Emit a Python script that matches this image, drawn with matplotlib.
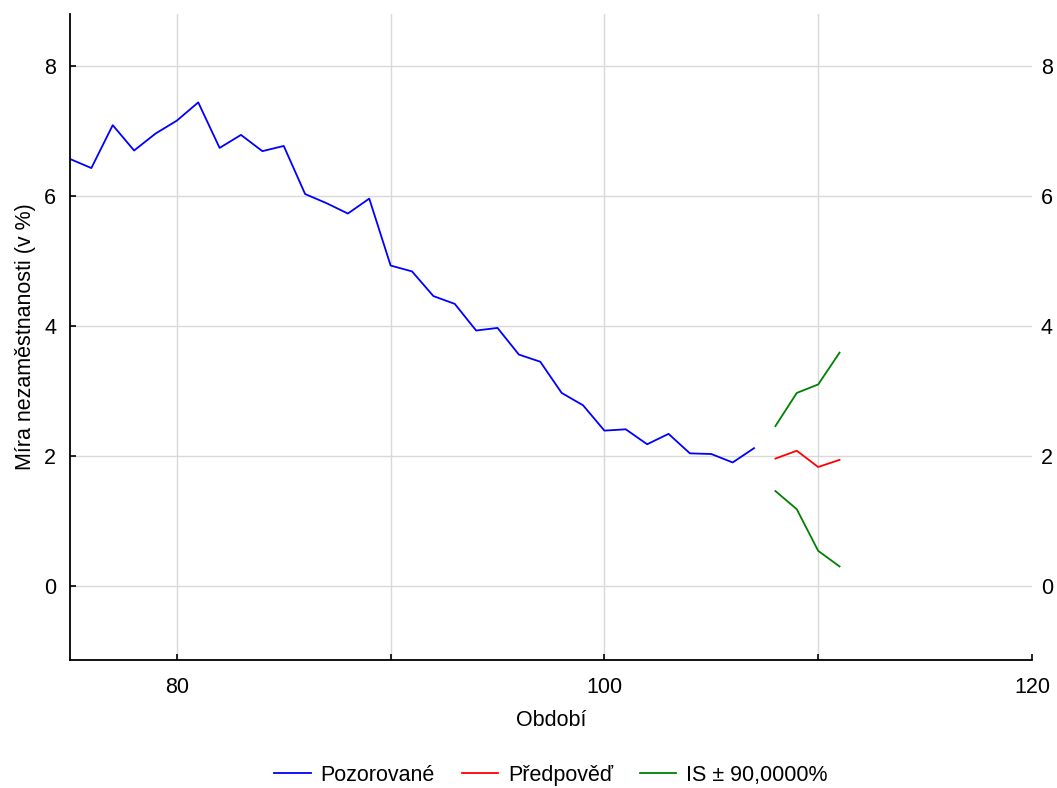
import matplotlib
matplotlib.use('Agg')
import matplotlib.pyplot as plt

plt.rcParams['font.family'] = ['Liberation Sans', 'DejaVu Sans']

# ── Data ──────────────────────────────────────────────────────────────────
obs_x = list(range(75, 108))
obs_y = [6.57, 6.43, 7.09, 6.70, 6.96, 7.16, 7.44, 6.74, 6.94, 6.69,
         6.77, 6.03, 5.89, 5.73, 5.96, 4.93, 4.84, 4.46, 4.34, 3.93,
         3.97, 3.56, 3.45, 2.97, 2.78, 2.39, 2.41, 2.18, 2.34, 2.04,
         2.03, 1.90, 2.12]

fc_x = [108, 109, 110, 111]
fc_y = [1.96, 2.08, 1.83, 1.94]
ci_hi = [2.46, 2.97, 3.10, 3.59]
ci_lo = [1.46, 1.18, 0.54, 0.30]

x_ticks = [80, 90, 100, 110, 120]
x_labels = ['80', '', '100', '', '120']
y_ticks = [0, 2, 4, 6, 8]

FS = 15.5

# ── Figure ────────────────────────────────────────────────────────────────
fig = plt.figure(figsize=(10.57, 7.88), dpi=100, facecolor='white')
ax = fig.add_axes([0.0662, 0.1624, 0.9101, 0.8198])

ax.plot(obs_x, obs_y, color='#0000ff', lw=1.3, label='Pozorované')
ax.plot(fc_x, fc_y, color='#ff0000', lw=1.3, label='Předpověď')
ax.plot(fc_x, ci_hi, color='#008000', lw=1.3, label='IS ± 90,0000%')
ax.plot(fc_x, ci_lo, color='#008000', lw=1.3)

ax.set_xlim(75, 120)
ax.set_ylim(-1.14, 8.8)
ax.set_xticks(x_ticks)
ax.set_xticklabels(x_labels)
ax.set_yticks(y_ticks)

ax.grid(True, color='#d9d9d9', lw=1.0)
ax.set_axisbelow(True)
ax.get_xgridlines()[-1].set_visible(False)

for side in ('top', 'right'):
    ax.spines[side].set_visible(False)
ax.spines['left'].set_linewidth(1.3)
ax.spines['bottom'].set_linewidth(1.3)

ax.tick_params(axis='both', direction='in', length=4, width=1.2,
               labelsize=FS)
ax.tick_params(axis='y', pad=10)
ax.tick_params(axis='x', pad=12)

# right-hand tick labels, no spine, no tick marks
sec = ax.secondary_yaxis('right')
sec.set_yticks(y_ticks)
sec.spines['right'].set_visible(False)
sec.tick_params(length=0, pad=6.5, labelsize=FS)

ax.set_xlabel('Období', fontsize=FS, labelpad=9)
ax.set_ylabel('Míra nezaměstnanosti (v %)', fontsize=FS, labelpad=6)

fig.legend(loc='lower center', bbox_to_anchor=(0.5212, -0.022), ncol=3,
           frameon=False, fontsize=FS, handlelength=1.7, columnspacing=1.25,
           handletextpad=0.45)

plt.savefig('out.png', dpi=100, facecolor='white')
plt.close()
